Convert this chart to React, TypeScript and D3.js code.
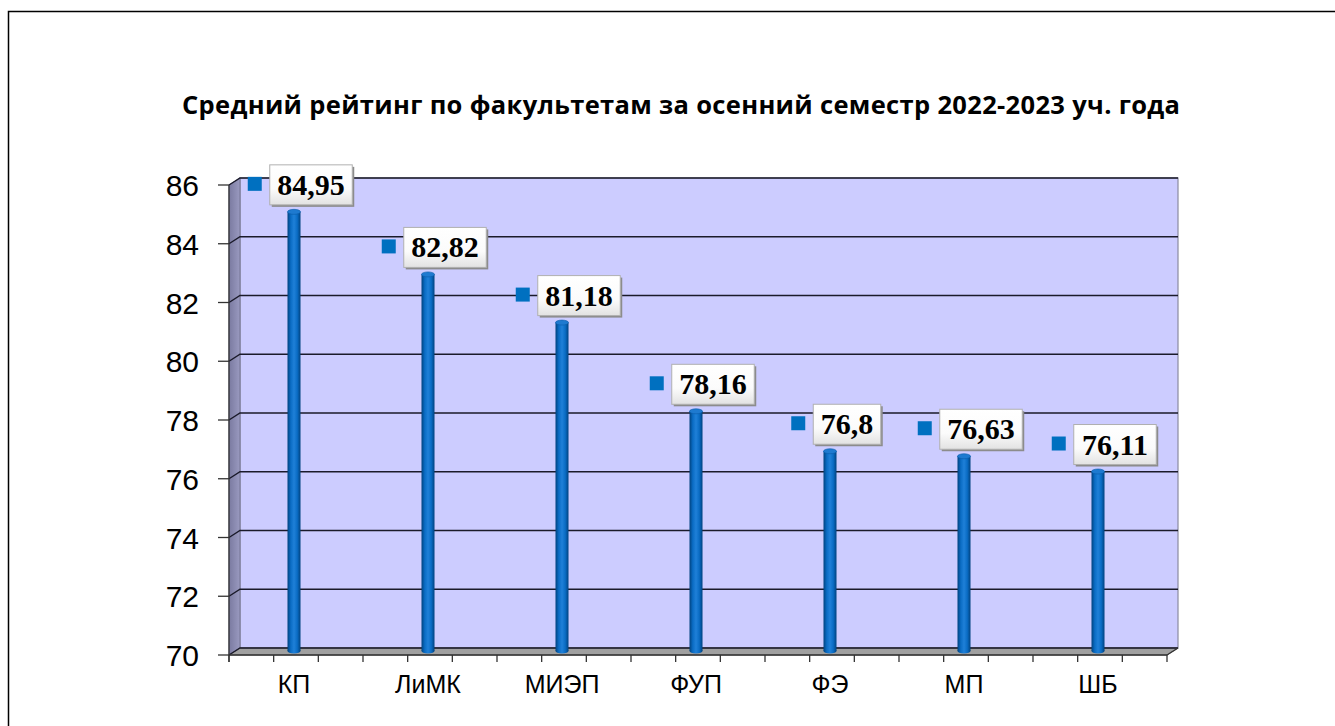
import React from "react";
import * as d3 from "d3";

const categories = ["КП", "ЛиМК", "МИЭП", "ФУП", "ФЭ", "МП", "ШБ"];
const values = [84.95, 82.82, 81.18, 78.16, 76.8, 76.63, 76.11];
const valueLabels = ["84,95", "82,82", "81,18", "78,16", "76,8", "76,63", "76,11"];
const yTicks = [70, 72, 74, 76, 78, 80, 82, 84, 86];
const title = "Средний рейтинг по факультетам за осенний семестр 2022-2023 уч. года";

const W = 1335;
const H = 726;
const DX = 11;
const DY = -7;
const X0 = 229;
const X1 = 1167;

export default function App() {
  const yFront = d3.scaleLinear().domain([70, 86]).range([655, 185]);
  const yBar = d3.scaleLinear().domain([70, 86]).range([651, 181]);
  const x = d3.scaleBand<string>().domain(categories).range([X0, X1]).padding(0);
  const subTicks = d3.range(0, categories.length * 3 + 1).map((k) => X0 + (k * (X1 - X0)) / (categories.length * 3));

  const yTop = yFront(86);
  const yBot = yFront(70);

  const charW = (s: string) => {
    let w = 0;
    for (const c of s) w += c === "," ? 0.25 : 0.5;
    return w;
  };
  const labelFont = 30;

  return (
    <svg width={W} height={H} style={{ position: "absolute", left: 0, top: 0, background: "#fff" }}>
      <defs>
        <linearGradient id="cyl" x1="0" x2="1" y1="0" y2="0">
          <stop offset="0" stopColor="#00427f" />
          <stop offset="0.25" stopColor="#0a6cc4" />
          <stop offset="0.5" stopColor="#1f80d8" />
          <stop offset="0.75" stopColor="#0a6cc4" />
          <stop offset="1" stopColor="#00427f" />
        </linearGradient>
        <linearGradient id="box" x1="0" x2="0" y1="0" y2="1">
          <stop offset="0" stopColor="#ffffff" />
          <stop offset="0.6" stopColor="#fbfbfb" />
          <stop offset="1" stopColor="#e2e2e2" />
        </linearGradient>
        <linearGradient id="side" x1="0" x2="1" y1="0" y2="0">
          <stop offset="0" stopColor="#7a7aa0" />
          <stop offset="1" stopColor="#9a9ac0" />
        </linearGradient>
      </defs>

      {/* outer frame */}
      <rect x={8.5} y={11.5} width={1400} height={800} fill="none" stroke="#000" strokeWidth={1.5} />

      {/* title */}
      <text
        x={681}
        y={114}
        textAnchor="middle"
        fontFamily="'Open Sans', sans-serif"
        fontWeight="bold"
        fontSize={25.5}
        textLength={998}
        lengthAdjust="spacing"
        fill="#000"
      >
        {title}
      </text>

      {/* back wall */}
      <rect x={X0 + DX} y={yTop + DY} width={X1 - X0} height={yBot - yTop} fill="#ccccff" stroke="#8a8aa0" strokeWidth={1.2} />
      {/* left side wall */}
      <polygon
        points={`${X0},${yTop} ${X0 + DX},${yTop + DY} ${X0 + DX},${yBot + DY} ${X0},${yBot}`}
        fill="url(#side)"
        stroke="#6a6a88"
        strokeWidth={0.8}
      />
      {/* floor */}
      <polygon
        points={`${X0},${yBot} ${X0 + DX},${yBot + DY} ${X1 + DX},${yBot + DY} ${X1},${yBot}`}
        fill="#a0a0a0"
        stroke="#6e6e6e"
        strokeWidth={1}
      />

      {/* gridlines */}
      {yTicks.map((t) => (
        <polyline
          key={"g" + t}
          points={`${X0},${yFront(t)} ${X0 + DX},${yFront(t) + DY} ${X1 + DX},${yFront(t) + DY}`}
          fill="none"
          stroke="#1a1a2a"
          strokeWidth={1.4}
        />
      ))}

      {/* y axis */}
      <line x1={X0} x2={X0} y1={yTop} y2={yBot + 7} stroke="#333" strokeWidth={1.3} />
      {yTicks.map((t) => (
        <g key={"yt" + t}>
          <line x1={X0 - 11} x2={X0} y1={yFront(t)} y2={yFront(t)} stroke="#333" strokeWidth={1.3} />
          <text
            x={199}
            y={yFront(t) + 11}
            textAnchor="end"
            fontFamily="'Liberation Sans', Arial, sans-serif"
            fontSize={30}
            fill="#000"
          >
            {t}
          </text>
        </g>
      ))}

      {/* x axis */}
      <line x1={X0} x2={X1} y1={yBot} y2={yBot} stroke="#333" strokeWidth={1.3} />
      <line x1={X1} x2={X1 + DX} y1={yBot} y2={yBot + DY} stroke="#333" strokeWidth={1.3} />
      {subTicks.map((tx, i) => (
        <line key={"xt" + i} x1={tx} x2={tx} y1={yBot} y2={yBot + 7} stroke="#333" strokeWidth={1.3} />
      ))}
      {categories.map((c) => (
        <text
          key={"xl" + c}
          x={(x(c) as number) + x.bandwidth() / 2 - 2}
          y={693}
          textAnchor="middle"
          fontFamily="'Liberation Sans', Arial, sans-serif"
          fontSize={25}
          fill="#000"
        >
          {c}
        </text>
      ))}

      {/* bars (cylinders) */}
      {categories.map((c, i) => {
        const cx = (x(c) as number) + x.bandwidth() / 2 - 2;
        const top = yBar(values[i]);
        const bot = yBar(70);
        const r = 6.5;
        return (
          <g key={"b" + c}>
            <rect x={cx - r} y={top} width={2 * r} height={bot - top} fill="url(#cyl)" />
            <ellipse cx={cx} cy={bot} rx={r} ry={2.5} fill="url(#cyl)" />
            <ellipse cx={cx} cy={top} rx={r} ry={2.5} fill="#1e7ad0" stroke="#0a5aa8" strokeWidth={0.6} />
          </g>
        );
      })}

      {/* value labels */}
      {categories.map((c, i) => {
        const cx = (x(c) as number) + x.bandwidth() / 2 - 2;
        const top = yBar(values[i]);
        const tw = charW(valueLabels[i]) * labelFont;
        const boxW = tw + 15;
        const boxH = 40;
        const sq = 14;
        const gap = 8;
        const groupW = sq + gap + boxW;
        const gx = cx + 6 - groupW / 2;
        const boxX = gx + sq + gap;
        const boxY = top - 7 - boxH;
        return (
          <g key={"l" + c}>
            <rect x={gx} y={boxY + boxH / 2 - sq / 2 - 1} width={sq} height={sq} fill="#0070c0" />
            <rect x={boxX + 2} y={boxY + 2} width={boxW} height={boxH} fill="#8c8c8c" />
            <rect x={boxX} y={boxY} width={boxW} height={boxH} fill="url(#box)" stroke="#b0b0b0" strokeWidth={1} />
            <text
              x={boxX + boxW / 2}
              y={boxY + boxH - 10}
              textAnchor="middle"
              fontFamily="'Liberation Serif', 'Times New Roman', serif"
              fontWeight="bold"
              fontSize={labelFont}
              fill="#000"
            >
              {valueLabels[i]}
            </text>
          </g>
        );
      })}
    </svg>
  );
}
